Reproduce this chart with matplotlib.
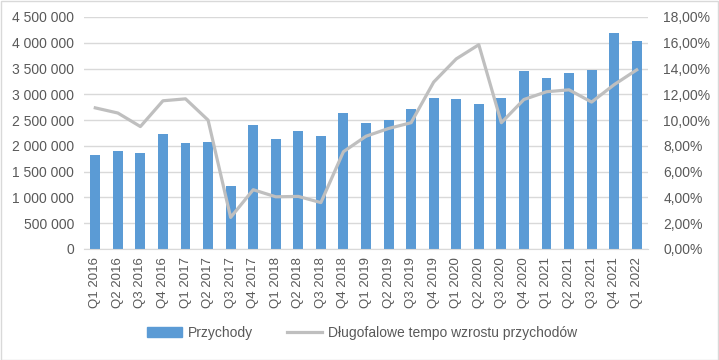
import matplotlib.pyplot as plt
from matplotlib.patches import Rectangle
from matplotlib.lines import Line2D
from matplotlib.ticker import FuncFormatter, MultipleLocator

plt.rcParams['font.family'] = ['Liberation Sans', 'DejaVu Sans']

quarters = ['Q1 2016', 'Q2 2016', 'Q3 2016', 'Q4 2016',
            'Q1 2017', 'Q2 2017', 'Q3 2017', 'Q4 2017',
            'Q1 2018', 'Q2 2018', 'Q3 2018', 'Q4 2018',
            'Q1 2019', 'Q2 2019', 'Q3 2019', 'Q4 2019',
            'Q1 2020', 'Q2 2020', 'Q3 2020', 'Q4 2020',
            'Q1 2021', 'Q2 2021', 'Q3 2021', 'Q4 2021',
            'Q1 2022']
przychody = [1820000, 1910000, 1870000, 2240000,
             2050000, 2070000, 1220000, 2400000,
             2130000, 2280000, 2200000, 2630000,
             2440000, 2510000, 2710000, 2920000,
             2900000, 2820000, 2920000, 3460000,
             3310000, 3420000, 3480000, 4180000,
             4040000]
tempo = [10.95, 10.55, 9.5, 11.5,
         11.65, 10.0, 2.45, 4.6,
         4.05, 4.08, 3.6, 7.55,
         8.75, 9.35, 9.8, 12.95,
         14.75, 15.85, 9.8, 11.6,
         12.2, 12.35, 11.4, 12.75,
         13.9]

txt = '#595959'
blue = '#5B9BD5'
gray = '#BFBFBF'
grid = '#D9D9D9'

fig = plt.figure(figsize=(7.19, 3.6), dpi=100)
ax = fig.add_axes([84/719, 1 - 249/360, (648-84)/719, (249-17)/360])
ax2 = ax.twinx()

x = list(range(len(quarters)))
ax.bar(x, przychody, width=0.44, color=blue, zorder=2)
ax2.plot(x, tempo, color=gray, linewidth=2.3, solid_joinstyle='round', zorder=3)

ax.set_xlim(-0.5, len(quarters) - 0.5)
ax.set_ylim(0, 4500000)
ax2.set_ylim(0, 18)
ax.yaxis.set_major_locator(MultipleLocator(500000))
ax2.yaxis.set_major_locator(MultipleLocator(2))
ax.yaxis.set_major_formatter(FuncFormatter(lambda v, p: f'{int(v):,}'.replace(',', ' ')))
ax2.yaxis.set_major_formatter(FuncFormatter(lambda v, p: f'{v:.2f}'.replace('.', ',') + '%'))

ax.grid(axis='y', color=grid, linewidth=1, zorder=0)
ax.set_axisbelow(True)
for a in (ax, ax2):
    for s in a.spines.values():
        s.set_visible(False)
ax.spines['bottom'].set_visible(True)
ax.spines['bottom'].set_color(grid)

ax.set_xticks(x)
ax.set_xticklabels(quarters, rotation=90)
ax.tick_params(axis='x', length=0, pad=6, labelsize=9.5, labelcolor=txt)
ax.tick_params(axis='y', length=0, pad=7, labelsize=10, labelcolor=txt)
ax2.tick_params(axis='y', length=0, pad=11, labelsize=10, labelcolor=txt)

handles = [Rectangle((0, 0), 1, 1, color=blue),
           Line2D([], [], color=gray, linewidth=2.3)]
fig.legend(handles, ['Przychody', 'Długofalowe tempo wzrostu przychodów'],
           loc='center', bbox_to_anchor=(362/719, 1 - 333/360), ncol=2,
           frameon=False, fontsize=10, labelcolor=txt,
           handlelength=2.5, columnspacing=2.5, handletextpad=0.4)

fig.patches.append(Rectangle((0.5/719, 0.5/360), 1 - 1.5/719, 1 - 1.5/360,
                             transform=fig.transFigure, fill=False,
                             edgecolor=grid, linewidth=1))

plt.savefig('out.png', dpi=100)
